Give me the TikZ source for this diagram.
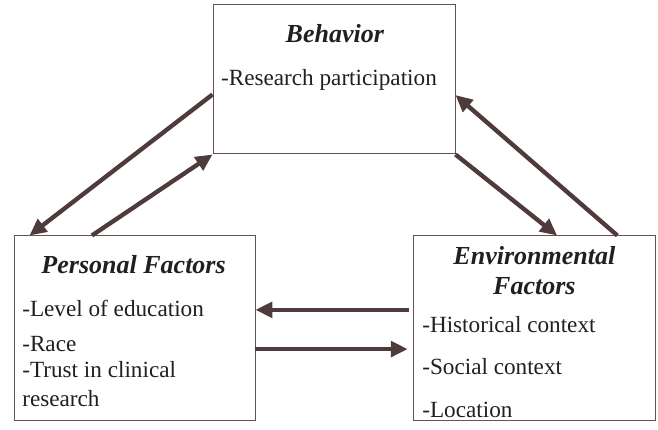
\documentclass[tikz,border=0pt]{standalone}
\usepackage{fontspec}
\setmainfont{Liberation Serif}
\usetikzlibrary{arrows.meta,calc}
\definecolor{brown3}{rgb}{0.31,0.23,0.23}
\definecolor{brown4}{rgb}{0.4,0.32,0.32}
\definecolor{ink}{rgb}{0.13,0.12,0.12}
\tikzset{
  box/.style={draw=brown4, line width=0.7pt, inner sep=0pt},
  txt/.style={anchor=base west, inner sep=0pt, text=ink, font=\fontsize{16.5}{20}\selectfont},
  ttl/.style={anchor=base, inner sep=0pt, text=ink, font=\fontsize{18.5}{22}\selectfont\bfseries\itshape},
  link/.style={draw=brown3, line width=3.1pt, -{Triangle[length=12pt,width=11pt]}}
}
\begin{document}
\begin{tikzpicture}
\useasboundingbox (0,0) rectangle (16.45,10.75);
\node[box, minimum width=6.05cm, minimum height=3.725cm] (beh) at (8.35,8.7625) {};
\node[box, minimum width=6.025cm, minimum height=4.6cm] (pers) at (3.3625,2.55) {};
\node[box, minimum width=6.05cm, minimum height=4.6cm] (env) at (13.35,2.55) {};
\node[ttl] (behT) at (8.37,9.675) {Behavior};
\node[txt] (beh1) at (5.52,8.6) {-Research participation};
\node[ttl] (persT) at (3.34,3.9) {Personal Factors};
\node[txt] (pers1) at (0.55,2.825) {-Level of education};
\node[txt] (pers2) at (0.55,1.95) {-Race};
\node[txt] (pers3) at (0.55,1.3) {-Trust in clinical};
\node[txt] (pers4) at (0.55,0.575) {research};
\node[ttl] (envT) at (13.36,4.125) {Environmental};
\node[ttl] (envT2) at (13.36,3.375) {Factors};
\node[txt] (env1) at (10.55,2.425) {-Historical context};
\node[txt] (env2) at (10.55,1.375) {-Social context};
\node[txt] (env3) at (10.55,0.3) {-Location};
\draw[link] ($(beh.north west)!0.6!(beh.south west)$) -- ($(pers.north west)!0.066!(pers.north east)$);
\draw[link] ($(pers.north west)!0.324!(pers.north east)$) -- (beh.south west);
\draw[link] (beh.south east) -- ($(env.north west)!0.595!(env.north east)$);
\draw[link] ($(env.north west)!0.843!(env.north east)$) -- ($(beh.north east)!0.604!(beh.south east)$);
\draw[link, shorten <=0.1cm] ($(env.north west)!0.402!(env.south west)$) -- ($(pers.north east)!0.402!(pers.south east)$);
\draw[link, shorten >=0.12cm] ($(pers.north east)!0.614!(pers.south east)$) -- ($(env.north west)!0.614!(env.south west)$);
\end{tikzpicture}
\end{document}
